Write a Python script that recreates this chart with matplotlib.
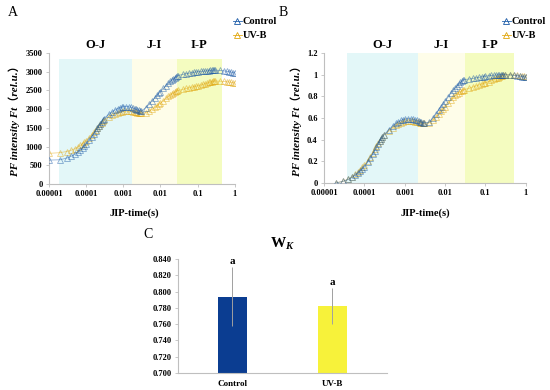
import numpy as np
import matplotlib.pyplot as plt
import matplotlib.transforms as mtransforms

plt.rcParams['font.family'] = ['Liberation Serif', 'Noto Sans CJK SC']
plt.rcParams['mathtext.fontset'] = 'custom'
plt.rcParams['mathtext.rm'] = 'Liberation Serif:bold'
plt.rcParams['mathtext.bf'] = 'Liberation Serif:bold'
plt.rcParams['mathtext.it'] = 'Liberation Serif:italic:bold'

# -----------------------------------------------------------------------------
# DATA
# -----------------------------------------------------------------------------
# sample times (s) of the OJIP transient
time_s = [
    10e-6, 20e-6, 30e-6, 40e-6, 50e-6, 60e-6, 70e-6, 80e-6, 90e-6, 100e-6,
    120e-6, 140e-6, 160e-6, 180e-6, 200e-6, 220e-6, 240e-6, 260e-6, 280e-6, 300e-6,
    0.4e-3, 0.5e-3, 0.6e-3, 0.7e-3, 0.8e-3, 0.9e-3, 1.0e-3, 1.2e-3, 1.4e-3, 1.6e-3,
    1.8e-3, 2.0e-3, 2.2e-3, 2.4e-3, 2.6e-3, 2.8e-3, 3.0e-3,
    4e-3, 5e-3, 6e-3, 7e-3, 8e-3, 9e-3, 10e-3, 12e-3, 14e-3, 16e-3,
    18e-3, 20e-3, 22e-3, 24e-3, 26e-3, 28e-3, 30e-3,
    40e-3, 50e-3, 60e-3, 70e-3, 80e-3, 90e-3, 100e-3, 120e-3, 140e-3, 160e-3,
    180e-3, 200e-3, 220e-3, 240e-3, 260e-3, 280e-3, 300e-3,
    0.4, 0.5, 0.6, 0.7, 0.8, 0.9, 1.0,
]

# panel A: raw fluorescence Ft (rel.u.)
ft_control = [
    640, 650, 695, 745, 800, 860, 920, 970, 1020, 1070,
    1170, 1260, 1340, 1420, 1490, 1550, 1610, 1660, 1710, 1750,
    1860, 1930, 1980, 2015, 2040, 2055, 2065, 2070, 2065, 2050,
    2035, 2015, 2000, 1985, 1970, 1955, 1940,
    2040, 2140, 2230, 2300, 2370, 2420, 2470, 2560, 2630, 2690,
    2740, 2780, 2810, 2840, 2865, 2885, 2900,
    2930, 2950, 2965, 2975, 2985, 2995, 3000, 3010, 3015, 3020,
    3025, 3030, 3035, 3038, 3040, 3042, 3045,
    3035, 3025, 3012, 3000, 2990, 2980, 2970,
]
ft_uvb = [
    820, 840, 870, 905, 945, 990, 1035, 1080, 1120, 1160,
    1240, 1310, 1380, 1440, 1500, 1550, 1600, 1640, 1680, 1710,
    1790, 1840, 1875, 1900, 1920, 1930, 1940, 1945, 1945, 1940,
    1935, 1925, 1915, 1905, 1900, 1895, 1890,
    1910, 1950, 2000, 2050, 2090, 2130, 2160, 2230, 2290, 2340,
    2380, 2410, 2435, 2455, 2475, 2490, 2500,
    2530, 2555, 2575, 2590, 2605, 2615, 2625, 2645, 2665, 2685,
    2700, 2715, 2725, 2735, 2742, 2748, 2752,
    2748, 2742, 2735, 2727, 2718, 2710, 2700,
]

# panel B: relative variable fluorescence (starts at 20 us)
vt_control = [
    0.000, 0.015, 0.032, 0.052, 0.073, 0.094, 0.113, 0.132, 0.150,
    0.190, 0.228, 0.264, 0.298, 0.330, 0.358, 0.384, 0.405, 0.424, 0.440,
    0.490, 0.525, 0.550, 0.565, 0.577, 0.585, 0.590, 0.593, 0.592, 0.588,
    0.583, 0.577, 0.571, 0.566, 0.562, 0.558, 0.555,
    0.560, 0.600, 0.640, 0.675, 0.705, 0.730, 0.755, 0.795, 0.830, 0.860,
    0.880, 0.900, 0.915, 0.930, 0.940, 0.950, 0.955,
    0.960, 0.966, 0.972, 0.976, 0.980, 0.983, 0.986, 0.990, 0.993, 0.995,
    0.997, 0.998, 0.999, 1.000, 1.000, 1.000, 1.000,
    0.998, 0.995, 0.990, 0.987, 0.983, 0.980, 0.977,
]
vt_uvb = [
    0.000, 0.016, 0.035, 0.056, 0.078, 0.100, 0.122, 0.143, 0.163,
    0.205, 0.243, 0.278, 0.310, 0.340, 0.365, 0.388, 0.408, 0.425, 0.440,
    0.480, 0.510, 0.532, 0.547, 0.558, 0.565, 0.570, 0.573, 0.573, 0.570,
    0.567, 0.563, 0.559, 0.556, 0.553, 0.551, 0.549,
    0.555, 0.580, 0.610, 0.635, 0.660, 0.680, 0.700, 0.735, 0.765, 0.790,
    0.810, 0.825, 0.835, 0.845, 0.852, 0.858, 0.862,
    0.875, 0.888, 0.898, 0.906, 0.914, 0.920, 0.926, 0.937, 0.947, 0.957,
    0.965, 0.973, 0.979, 0.985, 0.990, 0.995, 1.000,
    0.999, 0.997, 0.994, 0.991, 0.988, 0.985, 0.982,
]

# phase bands (s)
phases = ['O-J', 'J-I', 'I-P']
bands_a = [(1.9e-5, 1.7e-3), (1.7e-3, 0.0275), (0.0275, 0.45)]
bands_b = [(3.7e-5, 2.1e-3), (2.1e-3, 0.032), (0.032, 0.5)]

# panel C: W_K
groups = ['Control', 'UV-B']
wk_mean = [0.794, 0.782]
wk_err = [0.036, 0.022]
wk_sig = ['a', 'a']

x_ticks = [1e-5, 1e-4, 1e-3, 1e-2, 1e-1, 1]
x_ticklabels = ['0.00001', '0.0001', '0.001', '0.01', '0.1', '1']

# -----------------------------------------------------------------------------
# STYLE
# -----------------------------------------------------------------------------
BAND_COLORS = ['#e3f7f8', '#fefde9', '#f4fcc0']
CTRL = '#2a66b0'
UVB = '#e6ae1c'
SPINE = '#bfbfbf'


def style_axes(ax):
    for side in ['top', 'right']:
        ax.spines[side].set_visible(False)
    for side in ['left', 'bottom']:
        ax.spines[side].set_color(SPINE)
        ax.spines[side].set_linewidth(0.8)
    ax.tick_params(colors=SPINE, length=2.5, width=0.6, labelsize=6, pad=2)
    for lab in ax.get_xticklabels() + ax.get_yticklabels():
        lab.set_color('black')
        lab.set_fontweight('bold')


def draw_curve_panel(ax, t, ctrl, uvb, bands, band_top, ylim, yticks, yticklabels):
    for (x0, x1), c in zip(bands, BAND_COLORS):
        ax.axvspan(x0, x1, ymin=0, ymax=band_top, color=c, lw=0, zorder=0)
    ax.plot(t, ctrl, color=CTRL, lw=0.6, alpha=0.5, marker='^', ms=3.8,
            mfc='none', mec=(0.1, 0.35, 0.65, 0.5), mew=0.6, label='Control', zorder=3)
    ax.plot(t, uvb, color=UVB, lw=0.6, alpha=0.5, marker='^', ms=3.8,
            mfc='none', mec=(0.88, 0.65, 0.05, 0.5), mew=0.6, label='UV-B', zorder=2)
    ax.set_xscale('log')
    ax.set_xlim(1e-5, 1)
    ax.set_ylim(*ylim)
    ax.set_xticks(x_ticks)
    ax.set_xticklabels(x_ticklabels)
    ax.minorticks_off()
    ax.set_yticks(yticks)
    ax.set_yticklabels(yticklabels)
    style_axes(ax)
    trans = mtransforms.blended_transform_factory(ax.transData, ax.transAxes)
    for name, (x0, x1) in zip(phases, bands):
        ax.text(np.sqrt(x0 * x1), 1.065, name, transform=trans, ha='center',
                va='center', fontsize=9, fontweight='bold')
    ax.set_ylabel('PF intensity Ft（rel.u.）', fontsize=8, fontweight='bold',
                  style='italic', labelpad=4)


fig = plt.figure(figsize=(5.5, 3.9), dpi=100)

ax_a = fig.add_axes([0.089, 0.528, 0.338, 0.336])
ax_b = fig.add_axes([0.589, 0.531, 0.367, 0.333])

draw_curve_panel(ax_a, time_s, ft_control, ft_uvb, bands_a, 3340 / 3500, (0, 3500),
                 [0, 500, 1000, 1500, 2000, 2500, 3000, 3500],
                 ['0', '500', '1000', '1500', '2000', '2500', '3000', '3500'])
draw_curve_panel(ax_b, time_s[1:], vt_control, vt_uvb, bands_b, 1.0, (0, 1.2),
                 [0, 0.2, 0.4, 0.6, 0.8, 1.0, 1.2],
                 ['0', '0.2', '0.4', '0.6', '0.8', '1', '1.2'])

for ax, x_leg in [(ax_a, 228 / 550), (ax_b, 497 / 550)]:
    leg = ax.legend(loc='upper left', bbox_to_anchor=(x_leg, 1 - 12 / 390),
                    bbox_transform=fig.transFigure, frameon=False,
                    handlelength=0.8, handletextpad=0.1, labelspacing=0.45,
                    borderpad=0, prop={'size': 7.5, 'weight': 'bold'})
    for h in leg.legend_handles:
        h.set_alpha(1)

fig.text(134 / 550, 1 - 213 / 390, 'JIP-time(s)', ha='center', va='center',
         fontsize=7.5, fontweight='bold')
fig.text(425 / 550, 1 - 213 / 390, 'JIP-time(s)', ha='center', va='center',
         fontsize=7.5, fontweight='bold')
fig.text(8 / 550, 1 - 12 / 390, 'A', fontsize=10, va='center')
fig.text(279 / 550, 1 - 12 / 390, 'B', fontsize=10, va='center')
fig.text(143 / 550, 1 - 235 / 390, 'C', fontsize=10, va='center')

# panel C
ax_c = fig.add_axes([0.3236, 0.0436, 0.38, 0.292])
xpos = np.arange(len(groups))
ax_c.bar(xpos, wk_mean, width=0.29, color=['#0b3d91', '#f7f23a'],
         yerr=wk_err, error_kw={'ecolor': '#a0a0a0', 'elinewidth': 0.7, 'capsize': 0},
         zorder=2)
ax_c.set_xlim(-0.545, 1.545)
ax_c.set_ylim(0.700, 0.840)
ax_c.set_yticks(np.round(np.arange(0.700, 0.8401, 0.020), 3))
ax_c.set_yticklabels(['%.3f' % v for v in np.arange(0.700, 0.8401, 0.020)])
ax_c.set_xticks(xpos)
ax_c.set_xticklabels(groups)
style_axes(ax_c)
ax_c.tick_params(axis='x', length=0, pad=5)
for lab in ax_c.get_xticklabels():
    lab.set_fontsize(6.5)
for x, m, e, s in zip(xpos, wk_mean, wk_err, wk_sig):
    ax_c.text(x, m + e + 0.002, s, ha='center', va='bottom', fontsize=8,
              fontweight='bold')
ax_c.text(0.5, 1.06, r'W$_{\mathit{K}}$', transform=ax_c.transAxes, ha='center',
          va='bottom', fontsize=11, fontweight='bold')

fig.savefig('out.png', dpi=100)
